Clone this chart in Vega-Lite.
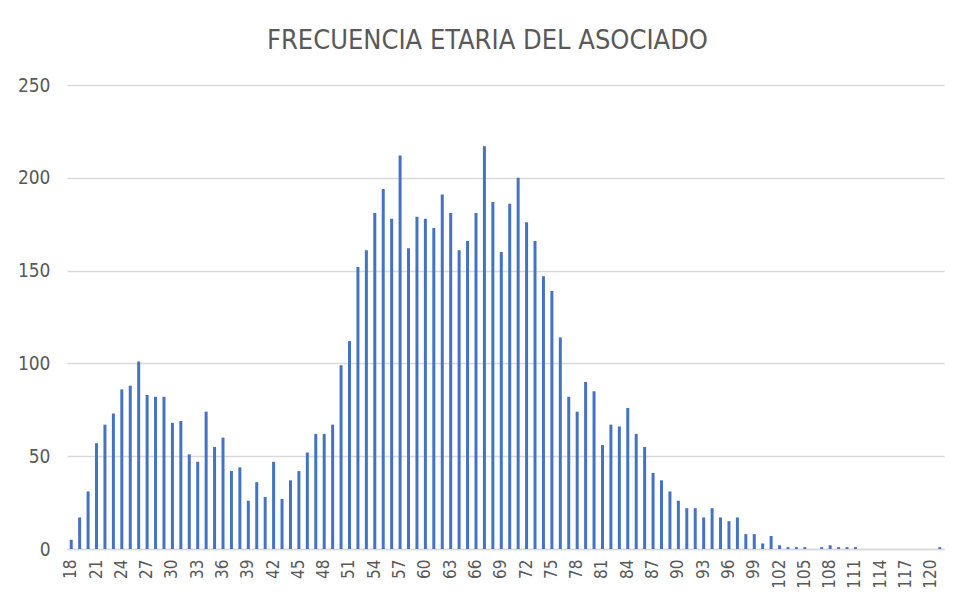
{
  "$schema": "https://vega.github.io/schema/vega-lite/v6.json",
  "autosize": "none",
  "width": 877,
  "height": 464,
  "padding": {"left": 67, "top": 85, "right": 10, "bottom": 49},
  "background": "white",
  "title": {
    "text": "FRECUENCIA ETARIA DEL ASOCIADO",
    "font": "Liberation Sans Narrow, Arial Narrow, DejaVu Sans Condensed, sans-serif",
    "fontSize": 27,
    "fontWeight": "normal",
    "color": "#595959",
    "anchor": "middle",
    "dx": -18,
    "offset": 21
  },
  "data": {
    "values": [
      {"edad": 18, "n": 5}, {"edad": 19, "n": 17}, {"edad": 20, "n": 31}, {"edad": 21, "n": 57},
      {"edad": 22, "n": 67}, {"edad": 23, "n": 73}, {"edad": 24, "n": 86}, {"edad": 25, "n": 88},
      {"edad": 26, "n": 101}, {"edad": 27, "n": 83}, {"edad": 28, "n": 82}, {"edad": 29, "n": 82},
      {"edad": 30, "n": 68}, {"edad": 31, "n": 69}, {"edad": 32, "n": 51}, {"edad": 33, "n": 47},
      {"edad": 34, "n": 74}, {"edad": 35, "n": 55}, {"edad": 36, "n": 60}, {"edad": 37, "n": 42},
      {"edad": 38, "n": 44}, {"edad": 39, "n": 26}, {"edad": 40, "n": 36}, {"edad": 41, "n": 28},
      {"edad": 42, "n": 47}, {"edad": 43, "n": 27}, {"edad": 44, "n": 37}, {"edad": 45, "n": 42},
      {"edad": 46, "n": 52}, {"edad": 47, "n": 62}, {"edad": 48, "n": 62}, {"edad": 49, "n": 67},
      {"edad": 50, "n": 99}, {"edad": 51, "n": 112}, {"edad": 52, "n": 152}, {"edad": 53, "n": 161},
      {"edad": 54, "n": 181}, {"edad": 55, "n": 194}, {"edad": 56, "n": 178}, {"edad": 57, "n": 212},
      {"edad": 58, "n": 162}, {"edad": 59, "n": 179}, {"edad": 60, "n": 178}, {"edad": 61, "n": 173},
      {"edad": 62, "n": 191}, {"edad": 63, "n": 181}, {"edad": 64, "n": 161}, {"edad": 65, "n": 166},
      {"edad": 66, "n": 181}, {"edad": 67, "n": 217}, {"edad": 68, "n": 187}, {"edad": 69, "n": 160},
      {"edad": 70, "n": 186}, {"edad": 71, "n": 200}, {"edad": 72, "n": 176}, {"edad": 73, "n": 166},
      {"edad": 74, "n": 147}, {"edad": 75, "n": 139}, {"edad": 76, "n": 114}, {"edad": 77, "n": 82},
      {"edad": 78, "n": 74}, {"edad": 79, "n": 90}, {"edad": 80, "n": 85}, {"edad": 81, "n": 56},
      {"edad": 82, "n": 67}, {"edad": 83, "n": 66}, {"edad": 84, "n": 76}, {"edad": 85, "n": 62},
      {"edad": 86, "n": 55}, {"edad": 87, "n": 41}, {"edad": 88, "n": 37}, {"edad": 89, "n": 31},
      {"edad": 90, "n": 26}, {"edad": 91, "n": 22}, {"edad": 92, "n": 22}, {"edad": 93, "n": 17},
      {"edad": 94, "n": 22}, {"edad": 95, "n": 17}, {"edad": 96, "n": 15}, {"edad": 97, "n": 17},
      {"edad": 98, "n": 8}, {"edad": 99, "n": 8}, {"edad": 100, "n": 3}, {"edad": 101, "n": 7},
      {"edad": 102, "n": 2}, {"edad": 103, "n": 1}, {"edad": 104, "n": 1}, {"edad": 105, "n": 1},
      {"edad": 106, "n": 0}, {"edad": 107, "n": 1}, {"edad": 108, "n": 2}, {"edad": 109, "n": 1},
      {"edad": 110, "n": 1}, {"edad": 111, "n": 1}, {"edad": 112, "n": 0}, {"edad": 113, "n": 0},
      {"edad": 114, "n": 0}, {"edad": 115, "n": 0}, {"edad": 116, "n": 0}, {"edad": 117, "n": 0},
      {"edad": 118, "n": 0}, {"edad": 119, "n": 0}, {"edad": 120, "n": 0}, {"edad": 121, "n": 1}
    ]
  },
  "mark": {"type": "bar", "color": "#4472C4", "width": 3},
  "encoding": {
    "x": {
      "field": "edad",
      "type": "ordinal",
      "title": null,
      "scale": {"paddingInner": 0.6, "paddingOuter": 0.3},
      "axis": {
        "values": [18,21,24,27,30,33,36,39,42,45,48,51,54,57,60,63,66,69,72,75,78,81,84,87,90,93,96,99,102,105,108,111,114,117,120],
        "labelAngle": -90,
        "labelAlign": "right",
        "labelBaseline": "middle",
        "labelPadding": 10,
        "ticks": false,
        "domain": true,
        "domainColor": "#d9d9d9",
        "domainWidth": 1.5,
        "labelFont": "Liberation Sans Narrow, Arial Narrow, DejaVu Sans Condensed, sans-serif",
        "labelFontSize": 17,
        "labelColor": "#595959",
        "labelOverlap": false
      }
    },
    "y": {
      "field": "n",
      "type": "quantitative",
      "title": null,
      "scale": {"domain": [0, 250]},
      "axis": {
        "values": [0, 50, 100, 150, 200, 250],
        "ticks": false,
        "domain": false,
        "grid": true,
        "gridColor": "#d9d9d9",
        "gridWidth": 1.5,
        "labelPadding": 17,
        "labelFont": "Liberation Sans Narrow, Arial Narrow, DejaVu Sans Condensed, sans-serif",
        "labelFontSize": 19,
        "labelColor": "#595959"
      }
    }
  },
  "config": {"view": {"stroke": null}}
}
